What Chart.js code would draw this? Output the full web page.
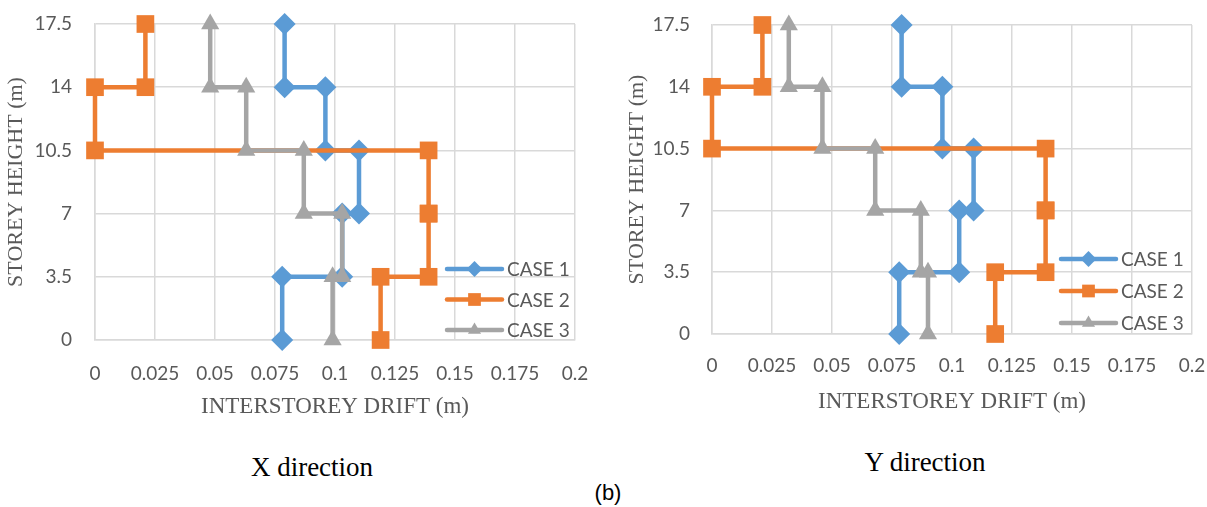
<!DOCTYPE html>
<html>
<head>
<meta charset="utf-8">
<script src="https://cdn.jsdelivr.net/npm/chart.js@4.4.1/dist/chart.umd.min.js"></script>
<style>
  html, body { margin: 0; padding: 0; background: #fff; }
  body { width: 1207px; height: 507px; overflow: hidden; position: relative; }
  .wrap { position: absolute; top: 0; height: 430px; }
  #leftWrap { left: 0; width: 600px; }
  #rightWrap { left: 607px; width: 620px; }
  .cap {
    position: absolute; transform: translate(-50%, -50%); white-space: nowrap;
    font-family: "Liberation Serif", "Times New Roman", serif; font-size: 27px; color: #000;
  }
  #tagB { font-family: "Liberation Sans", Arial, sans-serif; font-size: 22px; }
</style>
</head>
<body>
<div class="wrap" id="leftWrap"><canvas id="chartX" width="600" height="430"></canvas></div>
<div class="wrap" id="rightWrap"><canvas id="chartY" width="620" height="430"></canvas></div>
<div class="cap" style="left:312px;top:467px">X direction</div>
<div class="cap" style="left:925px;top:462px">Y direction</div>
<div class="cap" id="tagB" style="left:608px;top:493px">(b)</div>

<script>
// storey levels (m) and tick labels
const storeyLevels = [0, 3.5, 7, 10.5, 14, 17.5];
const yTickLabels = ["0", "3.5", "7", "10.5", "14", "17.5"];
const xTicks = [0, 0.025, 0.05, 0.075, 0.1, 0.125, 0.15, 0.175, 0.2];
const xTickLabels = ["0", "0.025", "0.05", "0.075", "0.1", "0.125", "0.15", "0.175", "0.2"];
const caseNames = ["CASE 1", "CASE 2", "CASE 3"];

// interstorey drift per storey (bottom storey first), X direction
const xCase1 = [0.078, 0.103, 0.110, 0.096, 0.079];
const xCase2 = [0.119, 0.139, 0.139, 0.000, 0.021];
const xCase3 = [0.099, 0.103, 0.087, 0.063, 0.048];

// Y direction
const yCase1 = [0.078, 0.103, 0.109, 0.096, 0.079];
const yCase2 = [0.118, 0.139, 0.139, 0.000, 0.021];
const yCase3 = [0.090, 0.087, 0.068, 0.046, 0.032];

const colors = ["#5b9bd5", "#ed7d31", "#a5a5a5"];
const markers = [
  { style: "rectRot", r: 11 },
  { style: "rect", r: 12.5 },
  { style: "triangle", r: 10.5 },
];
const tickColor = "#595959";

// each storey drift is drawn as a vertical segment from floor to floor
function stepPoints(drifts) {
  const pts = [];
  drifts.forEach((d, i) => {
    pts.push({ x: d, y: storeyLevels[i] });
    pts.push({ x: d, y: storeyLevels[i + 1] });
  });
  return pts;
}

function makeDatasets(series) {
  return series.map((s, i) => ({
    label: caseNames[i],
    data: stepPoints(s),
    showLine: true,
    borderColor: colors[i],
    backgroundColor: colors[i],
    borderWidth: 4.5,
    pointStyle: markers[i].style,
    pointRadius: markers[i].r,
    pointHoverRadius: markers[i].r,
    pointBorderWidth: 0,
    order: 3 - i,
    clip: false,
  }));
}

// legend drawn inside the plot with line + marker samples
const sideLegend = {
  id: "sideLegend",
  afterDatasetsDraw(chart, args, opts) {
    const ctx = chart.ctx;
    ctx.save();
    chart.data.datasets.forEach((ds, i) => {
      const y = opts.y + i * opts.gap;
      ctx.strokeStyle = ds.borderColor;
      ctx.lineWidth = 4.5;
      ctx.lineCap = "round";
      ctx.beginPath();
      ctx.moveTo(opts.x, y);
      ctx.lineTo(opts.x + opts.len, y);
      ctx.stroke();
      ctx.fillStyle = ds.backgroundColor;
      Chart.helpers.drawPoint(ctx, {
        pointStyle: ds.pointStyle, radius: ds.pointRadius * 0.72, borderWidth: 0, rotation: 0
      }, opts.x + opts.len / 2, y);
      ctx.fillStyle = tickColor;
      ctx.font = "19px Lato, sans-serif";
      ctx.textBaseline = "middle";
      ctx.textAlign = "left";
      ctx.fillText(ds.label, opts.x + opts.len + 5, y + 1);
    });
    ctx.restore();
  },
};

// keep the plot box where the layout padding puts it
function noScalePadding(s) {
  s.paddingTop = 0;
  s.paddingBottom = 0;
  s.paddingLeft = 0;
  s.paddingRight = 0;
}

function makeChart(id, series, cfg) {
  return new Chart(document.getElementById(id), {
    type: "scatter",
    data: { datasets: makeDatasets(series) },
    plugins: [sideLegend],
    options: {
      responsive: false,
      animation: false,
      layout: { padding: { left: 0, top: cfg.top, right: cfg.right, bottom: 0 } },
      plugins: {
        legend: { display: false },
        tooltip: { enabled: false },
        sideLegend: cfg.legend,
      },
      scales: {
        x: {
          type: "linear", min: 0, max: 0.2,
          afterBuildTicks: (s) => { s.ticks = xTicks.map((v) => ({ value: v })); },
          afterFit: (s) => { s.height = cfg.xh; noScalePadding(s); },
          ticks: {
            callback: (v, i) => xTickLabels[i],
            color: tickColor, padding: cfg.xpad, maxRotation: 0, autoSkip: false,
            font: { family: "Lato, sans-serif", size: 19 },
          },
          grid: { color: "#d9d9d9", lineWidth: 1.5, drawTicks: false },
          border: { color: "#d9d9d9", width: 1.5 },
          title: {
            display: true, text: "INTERSTOREY DRIFT (m)", color: tickColor,
            font: { family: "'Liberation Serif', serif", size: 23 },
            padding: { top: 0, bottom: cfg.xtitlePad },
          },
        },
        y: {
          type: "linear", min: 0, max: 17.5,
          afterBuildTicks: (s) => { s.ticks = storeyLevels.map((v) => ({ value: v })); },
          afterFit: (s) => { s.width = cfg.yw; noScalePadding(s); },
          ticks: {
            callback: (v, i) => yTickLabels[i],
            color: tickColor, padding: cfg.ypad, autoSkip: false,
            font: { family: "Lato, sans-serif", size: 19 },
          },
          grid: { color: "#d9d9d9", lineWidth: 1.5, drawTicks: false },
          border: { color: "#d9d9d9", width: 1.5 },
          title: {
            display: true, text: "STOREY HEIGHT (m)", color: tickColor,
            font: { family: "'Liberation Serif', serif", size: 22 },
            padding: { top: cfg.ytitlePad, bottom: 0 },
          },
        },
      },
    },
  });
}

makeChart("chartX", [xCase1, xCase2, xCase3], {
  top: 24, right: 25, yw: 95, xh: 90, xpad: 22, ypad: 23,
  xtitlePad: 9, ytitlePad: 3,
  legend: { x: 447, y: 269, gap: 30.5, len: 55 },
});

makeChart("chartY", [yCase1, yCase2, yCase3], {
  top: 25, right: 35, yw: 105, xh: 96, xpad: 20, ypad: 22,
  xtitlePad: 14, ytitlePad: 17,
  legend: { x: 454, y: 259, gap: 32, len: 55 },
});
</script>
</body>
</html>
